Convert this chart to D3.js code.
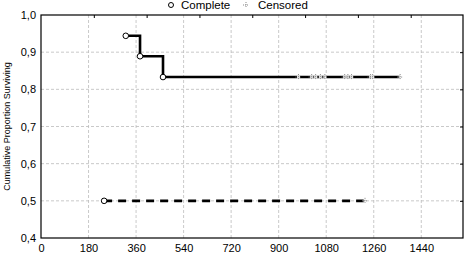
<!DOCTYPE html>
<html><head><meta charset="utf-8">
<script src="https://cdn.jsdelivr.net/npm/d3@7"></script>
<style>body{margin:0;background:#fff}svg{display:block;font-family:"Liberation Sans",Arial,sans-serif}</style>
</head><body>
<script>
// Data
const xTicks = [0,180,360,540,720,900,1080,1260,1440];
const yTicks = [0.4,0.5,0.6,0.7,0.8,0.9,1.0];
const group1Times = [321, 375, 462];
const group1Surv  = [0.944, 0.889, 0.833];
const group1Censored = [975, 1025, 1040, 1058, 1075, 1150, 1162, 1176, 1248, 1256, 1360];
const group2Times = [239];
const group2Surv  = [0.5];
const group2Censored = [1227];

const W=465,H=254, m={l:41,t:15,r:2,b:16};
const svg=d3.select("body").append("svg").attr("width",W).attr("height",H);
const x=d3.scaleLinear().domain([0,1598]).range([m.l,W-m.r]);
const y=d3.scaleLinear().domain([0.4,1.0]).range([H-m.b,m.t]);

// grid
const g=svg.append("g");
g.selectAll(".gx").data(xTicks.slice(1)).join("line").attr("x1",d=>x(d)).attr("x2",d=>x(d))
 .attr("y1",y(1)).attr("y2",y(0.4)).attr("stroke","#bbb").attr("stroke-dasharray","3,2").attr("stroke-width",0.8);
g.selectAll(".gy").data(yTicks.slice(1,-1)).join("line").attr("y1",d=>y(d)).attr("y2",d=>y(d))
 .attr("x1",x(0)).attr("x2",W-m.r).attr("stroke","#bbb").attr("stroke-dasharray","3,2").attr("stroke-width",0.8);

// axes
const fmt=d3.format(".1f");
const ax=svg.append("g").attr("transform",`translate(0,${y(0.4)})`)
 .call(d3.axisBottom(x).tickValues(xTicks).tickSize(0).tickPadding(5).tickFormat(d3.format("d")));
const ay=svg.append("g").attr("transform",`translate(${x(0)},0)`)
 .call(d3.axisLeft(y).tickValues(yTicks).tickSize(0).tickPadding(5).tickFormat(d=>fmt(d).replace(".",",")));
const at=svg.append("g").attr("transform",`translate(0,${y(1)})`)
 .call(d3.axisBottom(x).tickValues([200,400,600,800,1000,1200,1400]).tickSize(3).tickFormat(""));
const ar=svg.append("g").attr("transform",`translate(${W-m.r},0)`)
 .call(d3.axisLeft(y).tickValues(yTicks.slice(1,-1)).tickSize(3).tickFormat(""));
[ax,ay,at,ar].forEach(a=>{a.select(".domain").remove();a.selectAll("text").attr("font-size",11).attr("fill","#000").attr("font-family","Liberation Sans, Arial, sans-serif");a.selectAll("line").attr("stroke","#000");});
ax.selectAll("text").attr("dy","0.85em");

// frame
svg.append("rect").attr("x",x(0)).attr("y",y(1)).attr("width",W-m.r-x(0)).attr("height",y(0.4)-y(1))
 .attr("fill","none").attr("stroke","#000").attr("stroke-width",1.2);

// y label
svg.append("text").attr("transform",`translate(7,${(y(1)+y(0.4))/2}) rotate(-90)`)
 .attr("text-anchor","middle").attr("font-size",9).attr("dy","0.35em").text("Cumulative Proportion Surviving");

// step curves
function stepPts(times,surv,end){const p=[];for(let i=0;i<times.length;i++){if(i>0)p.push([times[i],surv[i-1]]);p.push([times[i],surv[i]]);}p.push([end,surv[surv.length-1]]);return p;}
const line=d3.line().x(d=>x(d[0])).y(d=>y(d[1]));
const p1=stepPts(group1Times,group1Surv,d3.max(group1Censored));
svg.append("path").attr("d",line(p1)).attr("fill","none").attr("stroke","#000").attr("stroke-width",2.6);
const p2=stepPts(group2Times,group2Surv,d3.max(group2Censored));
svg.append("path").attr("d",line(p2)).attr("fill","none").attr("stroke","#000").attr("stroke-width",2.6).attr("stroke-dasharray","8,6");

// markers
function circles(times,surv){svg.selectAll(null).data(times).join("circle").attr("cx",d=>x(d)).attr("cy",(d,i)=>y(surv[i]))
 .attr("r",2.8).attr("fill","#fff").attr("stroke","#000").attr("stroke-width",1);}
circles(group1Times,group1Surv);circles(group2Times,group2Surv);
function cens(xs,s){const gg=svg.append("g");xs.forEach(t=>{const cx=x(t),cy=y(s);
 gg.append("rect").attr("x",cx-1.5).attr("y",cy-1.5).attr("width",3).attr("height",3).attr("fill","#fff");
 gg.append("path").attr("d",`M${cx-3},${cy}H${cx+3}M${cx},${cy-3}V${cy+3}`).attr("stroke","#888").attr("stroke-width",1).attr("stroke-dasharray","1,1");});}
cens(group1Censored,group1Surv[group1Surv.length-1]);cens(group2Censored,group2Surv[0]);

// legend
svg.append("circle").attr("cx",171).attr("cy",5).attr("r",2.5).attr("fill","#fff").attr("stroke","#000");
svg.append("text").attr("x",181).attr("y",5).attr("dy","0.35em").attr("font-size",11.5).text("Complete");
svg.append("path").attr("d","M243,5H249M246,2V8").attr("stroke","#888").attr("stroke-dasharray","1,1");
svg.append("text").attr("x",258).attr("y",5).attr("dy","0.35em").attr("font-size",11.5).text("Censored");
</script>
</body></html>
